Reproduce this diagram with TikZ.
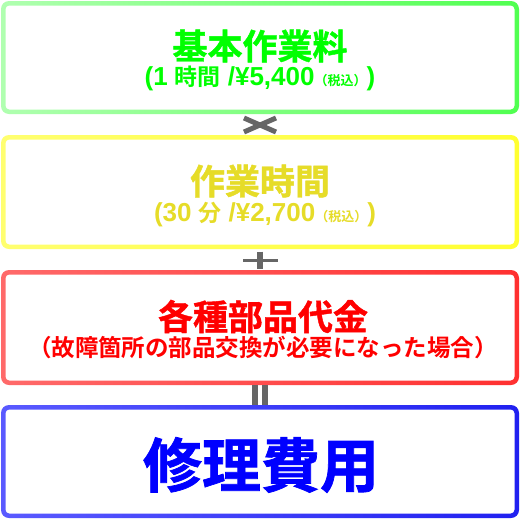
\documentclass[tikz,border=0pt]{standalone}
\usepackage{fontspec}
\newfontfamily\jp{Noto Sans CJK JP}[BoldFont={Noto Sans CJK JP Bold}]
\newfontfamily\jpx{Noto Sans CJK JP Bold}[FakeBold=1.2]
\newfontfamily\lat{Liberation Sans}[BoldFont={Liberation Sans Bold}]
\definecolor{gA}{HTML}{B0FFB0}\definecolor{gB}{HTML}{50FF50}\definecolor{gT}{HTML}{00FF00}
\definecolor{yA}{HTML}{FFFF70}\definecolor{yB}{HTML}{FFFF30}\definecolor{yT}{HTML}{E6DC28}
\definecolor{rA}{HTML}{FF6A6A}\definecolor{rB}{HTML}{FF3030}\definecolor{rT}{HTML}{FF0000}
\definecolor{bA}{HTML}{5A5AFF}\definecolor{bB}{HTML}{2020F0}\definecolor{bT}{HTML}{0000FF}
\definecolor{opc}{HTML}{666666}
\newcommand\kbox[4]{%
  \shade[left color=#1,right color=#2,rounded corners=8pt] (1,#3) rectangle (519,#4);
  \fill[white,rounded corners=4pt] (5.5,#3+4.5) rectangle (514.5,#4-4.5);}
\newcommand\fsz[1]{\fontsize{#1}{#1}\selectfont}
\newcommand\la[1]{{\lat\bfseries\fsz{26}#1}}
\newcommand\jc[1]{{\jp\bfseries\fsz{23}#1}}
\newcommand\tax{{\jp\bfseries\fsz{13}（税込）}}
\tikzset{
  txt/.style={inner sep=0pt,anchor=center},
  ttl/.style={txt,font=\jpx},
  opline/.style={draw=opc,line width=5pt},
}
\begin{document}
\begin{tikzpicture}[x=1pt,y=-1pt]
\useasboundingbox[fill=white] (0,0) rectangle (520,520);
\kbox{gA}{gB}{1}{114}
\kbox{yA}{yB}{135}{249}
\kbox{rA}{rB}{270}{385}
\kbox{bA}{bB}{405}{518}
% texts
\node[ttl,text=gT] (t1) at (260,46) {\fsz{35}基本作業料};
\node[txt,text=gT] (s1) at (260,78) {\la{(1}\hspace{7pt}\jc{時間}\hspace{7pt}\la{/¥5,400}\tax\la{)}};
\node[ttl,text=yT] (t2) at (260,181) {\fsz{35}作業時間};
\node[txt,text=yT] (s2) at (265,214.5) {\la{(30}\hspace{7pt}\jc{分}\hspace{7pt}\la{/¥2,700}\tax\la{)}};
\node[ttl,text=rT] (t3) at (263,316.5) {\fsz{35}各種部品代金};
\node[txt,text=rT] (s3) at (263,347.5) {\jp\bfseries\fsz{23.5}（故障箇所の部品交換が必要になった場合）};
\node[ttl,text=bT] (t4) at (261,465) {\fsz{59}修理費用};
% operators
\coordinate (x1) at (244,118); \coordinate (x2) at (276,132);
\coordinate (x3) at (244,132); \coordinate (x4) at (276,118);
\draw[opline] (x1) -- (x2);
\draw[opline] (x3) -- (x4);
\coordinate (p1) at (243,260.5); \coordinate (p2) at (278,260.5);
\coordinate (p3) at (260,251.5); \coordinate (p4) at (260,269);
\draw[draw=opc,line width=3pt] (p1) -- (p2);
\draw[draw=opc,line width=6pt] (p3) -- (p4);
\fill[opc] (252,385) rectangle (258,405);
\fill[opc] (262,385) rectangle (268,405);
\end{tikzpicture}
\end{document}
